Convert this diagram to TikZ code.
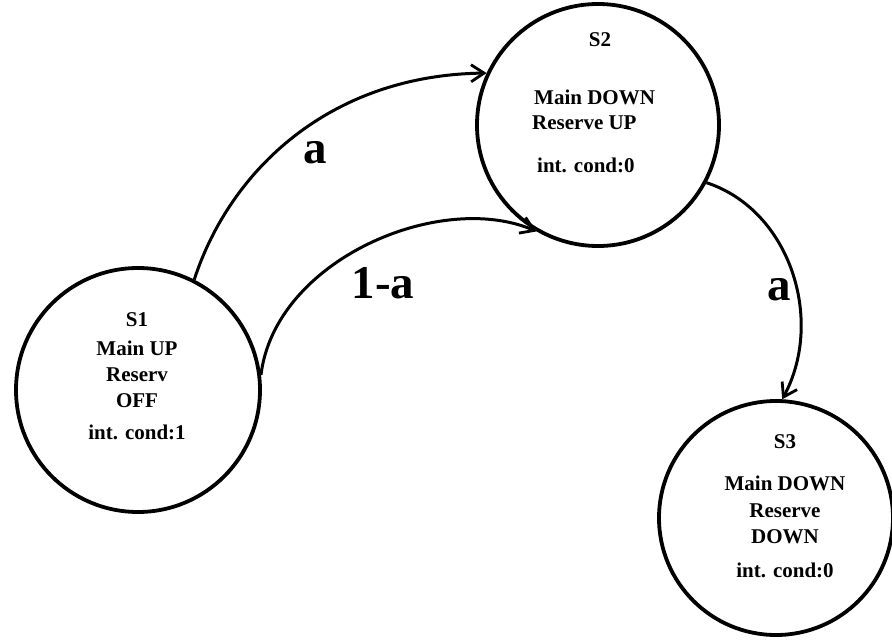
\documentclass[tikz,border=0pt]{standalone}
\usepackage{fontspec}
\setmainfont{Liberation Serif}
\usetikzlibrary{arrows.meta}
\begin{document}
\begin{tikzpicture}[x=1pt,y=-1pt,
  state/.style={draw,circle,line width=3.8pt,inner sep=0pt},
  txt/.style={font=\fontsize{21}{25}\selectfont\bfseries,inner sep=0pt},
  lbl/.style={font=\fontsize{47}{50}\selectfont\bfseries,inner sep=0pt},
  edge/.style={line width=3pt,-{Straight Barb[length=13pt,width=17pt,line width=2.8pt]}}]
\useasboundingbox (0,0) rectangle (892,644);
\node[state,minimum size=244pt] (s1) at (138,390) {};
\node[state,minimum size=242pt] (s2) at (598,125) {};
\node[state,minimum size=234pt] (s3) at (776,518) {};
% S1 text
\node[txt] (s1a) at (137,320) {S1};
\node[txt] (s1b) at (137,348) {Main UP};
\node[txt] (s1c) at (137,375) {Reserv};
\node[txt] (s1d) at (137,401) {OFF};
\node[txt] (s1e) at (137,432) {int. cond:1};
% S2 text
\node[txt] (s2a) at (600,40) {S2};
\node[txt,anchor=west] (s2b) at (534,97) {Main DOWN};
\node[txt,anchor=west] (s2c) at (532,123) {Reserve UP};
\node[txt,anchor=west] (s2d) at (537,165) {int. cond:0};
% S3 text
\node[txt] (s3a) at (785,442) {S3};
\node[txt] (s3b) at (785,483) {Main DOWN};
\node[txt] (s3c) at (785,511) {Reserve};
\node[txt] (s3d) at (785,537) {DOWN};
\node[txt] (s3e) at (785,570) {int. cond:0};
% edges
\draw[edge] (s1.63) .. controls (230,170) and (330,75) .. (s2.155);
\draw[edge] (s1.7) .. controls (275,260) and (440,190) .. (s2.240);
\draw[edge] (s2.-28) .. controls (790,210) and (825,320) .. (s3.87);
% labels
\node[lbl] (la) at (315,153) {a};
\node[lbl] (lb) at (383,283) {1-a};
\node[lbl] (lc) at (779,290) {a};
\end{tikzpicture}
\end{document}
